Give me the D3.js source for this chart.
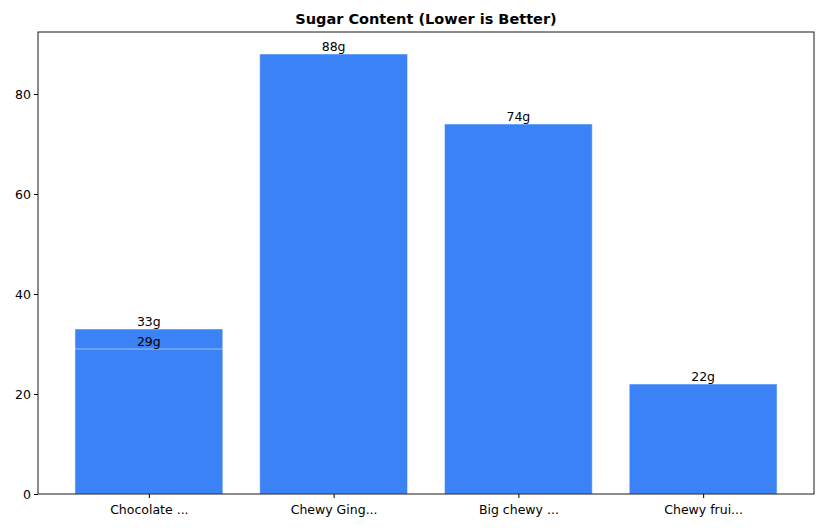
<!DOCTYPE html>
<html><head><meta charset="utf-8">
<script src="https://cdn.jsdelivr.net/npm/d3@7"></script>
<style>body{margin:0;background:#fff;font-family:"DejaVu Sans",sans-serif;}</style>
</head><body><svg id="c" width="822" height="528"></svg>
<script>
// bars in drawing order; the first category appears twice (29g drawn over 33g)
var labels = ["Chocolate ...", "Chocolate ...", "Chewy Ging...", "Big chewy ...", "Chewy frui..."];
var positions = [0, 0, 1, 2, 3];
var sugar = [33, 29, 88, 74, 22];
var tickLabels = ["Chocolate ...", "Chewy Ging...", "Big chewy ...", "Chewy frui..."];
var yTicks = [0, 20, 40, 60, 80];

var svg = d3.select("#c");
var m = {l: 38, r: 8, t: 32, b: 34};
var w = 822 - m.l - m.r, h = 528 - m.t - m.b;
var g = svg.append("g").attr("transform", "translate(" + m.l + "," + m.t + ")");

var x = d3.scaleLinear().domain([-0.6, 3.6]).range([0, w]);
var y = d3.scaleLinear().domain([0, d3.max(sugar) * 1.05]).range([h, 0]);
var bw = x(0.8) - x(0);

g.selectAll("rect.bar").data(sugar).enter().append("rect")
  .attr("class", "bar")
  .attr("x", function(d, i) { return x(positions[i]) - bw / 2; })
  .attr("y", function(d) { return y(d); })
  .attr("width", bw)
  .attr("height", function(d) { return h - y(d); })
  .attr("fill", "#3b82f6")
  .attr("stroke", "#ffffff").attr("stroke-opacity", 0.5).attr("stroke-width", 1);

g.selectAll("text.val").data(sugar).enter().append("text")
  .attr("x", function(d, i) { return x(positions[i]); })
  .attr("y", function(d) { return y(d) - 3; })
  .attr("text-anchor", "middle").attr("font-size", 12.5).attr("fill", "#000")
  .text(function(d) { return d + "g"; });

var xa = g.append("g").attr("transform", "translate(0," + h + ")")
  .call(d3.axisBottom(x).tickValues([0, 1, 2, 3]).tickFormat(function(d) { return tickLabels[d]; }).tickSizeOuter(0).tickSize(4));
var ya = g.append("g").call(d3.axisLeft(y).tickValues(yTicks).tickSizeOuter(0).tickSize(4));
[xa, ya].forEach(function(a) {
  a.selectAll("text").attr("font-size", 12.5).attr("fill", "#000").attr("font-family", "DejaVu Sans");
  a.select(".domain").remove();
  a.selectAll("line").attr("stroke", "#000");
});
xa.selectAll("text").attr("dy", "1.05em");

g.append("rect").attr("width", w).attr("height", h).attr("fill", "none").attr("stroke", "#000").attr("stroke-width", 0.9);

svg.append("text").attr("x", m.l + w / 2).attr("y", 24).attr("text-anchor", "middle")
  .attr("font-size", 14.5).attr("font-weight", "bold").text("Sugar Content (Lower is Better)");
</script></body></html>
